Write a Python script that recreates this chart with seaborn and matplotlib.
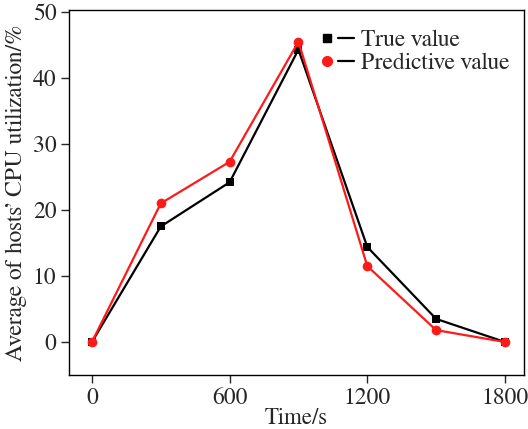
import numpy as np
import pandas as pd
import matplotlib.pyplot as plt
import seaborn as sns
from matplotlib.lines import Line2D
from matplotlib.legend_handler import HandlerTuple

time_s = [0, 300, 600, 900, 1200, 1500, 1800]
true_value = [0.0, 17.5, 24.2, 44.3, 14.4, 3.5, 0.0]
pred_value = [0.0, 21.0, 27.3, 45.5, 11.5, 1.8, 0.0]

sns.set_style("white")
plt.rcParams["font.family"] = ["FreeSerif", "STIXGeneral", "DejaVu Serif"]

df = pd.DataFrame({"Time": time_s, "True": true_value, "Pred": pred_value})

fig = plt.figure(figsize=(5.28, 4.29), dpi=100)
ax = fig.add_axes([69 / 528, 1 - 375 / 429, 455 / 528, 365 / 429])

sns.lineplot(data=df, x="Time", y="True", ax=ax, color="black",
             marker="s", markersize=6, markeredgewidth=0, linewidth=1.6)
sns.lineplot(data=df, x="Time", y="Pred", ax=ax, color="#ff1a1a",
             marker="o", markersize=7, markeredgewidth=0, linewidth=1.6)

ax.set_xlim(-100, 1883)
ax.set_ylim(-5, 50.3)
ax.set_xticks([0, 600, 1200, 1800])
ax.set_yticks([0, 10, 20, 30, 40, 50])
ax.set_xlabel("Time/s", fontsize=16.5, labelpad=-1)
ax.set_ylabel("Average of hosts\u2019 CPU utilization/%", fontsize=17, labelpad=4)
ax.tick_params(direction="out", length=6, width=1, labelsize=17,
               bottom=True, left=True, top=False, right=False, pad=3)
for s in ax.spines.values():
    s.set_color("black")
    s.set_linewidth(1)

h_true = (Line2D([], [], color="black", marker="s", markersize=6, linestyle="none"),
          Line2D([], [], color="black", linewidth=1.6))
h_pred = (Line2D([], [], color="#ff1a1a", marker="o", markersize=7, linestyle="none"),
          Line2D([], [], color="black", linewidth=1.6))
ax.legend([h_true, h_pred], ["True value", "Predictive value"],
          handler_map={tuple: HandlerTuple(ndivide=None, pad=0.15)},
          loc="upper right", bbox_to_anchor=(1.0, 0.985), frameon=False,
          fontsize=17, handlelength=1.5, handletextpad=0.3, labelspacing=0.05,
          borderaxespad=0.2)

fig.savefig("out.png", dpi=100)
